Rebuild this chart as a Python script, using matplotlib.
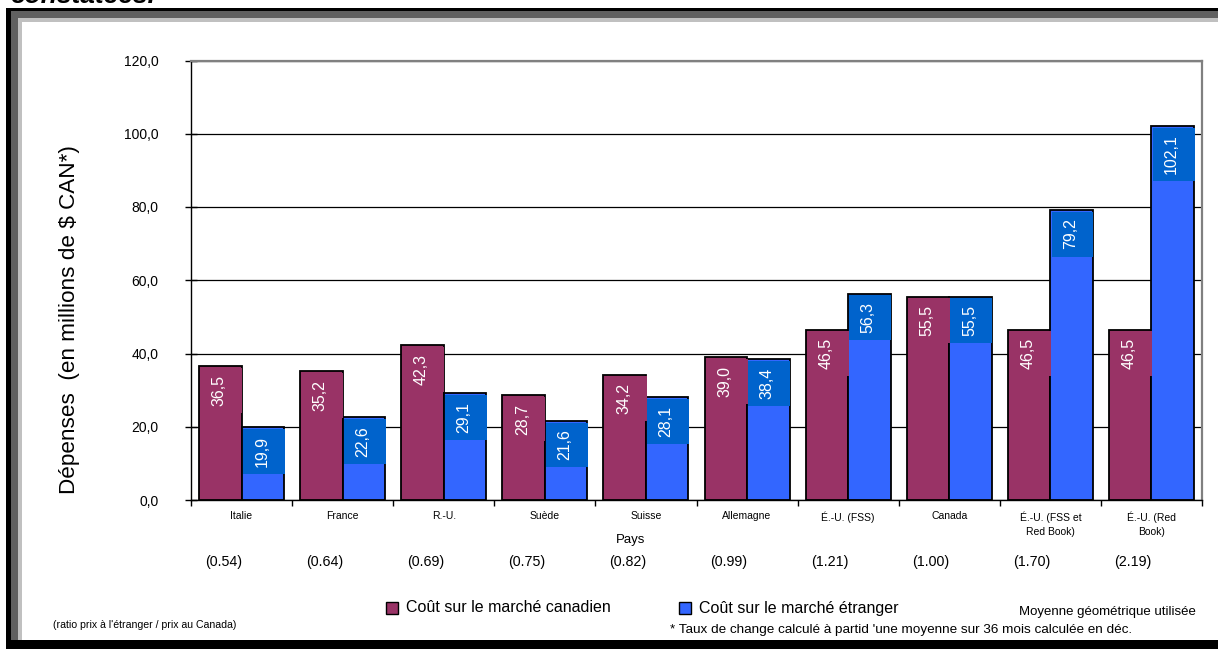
import matplotlib
matplotlib.use('Agg')
import matplotlib.pyplot as plt
from matplotlib.patches import Rectangle
import numpy as np

plt.rcParams['font.family'] = ['Liberation Sans', 'DejaVu Sans']

pays = ['Italie', 'France', 'R.-U.', 'Suède', 'Suisse', 'Allemagne',
        'É.-U. (FSS)', 'Canada', 'É.-U. (FSS et\nRed Book)', 'É.-U. (Red\nBook)']
cout_canadien = [36.5, 35.2, 42.3, 28.7, 34.2, 39.0, 46.5, 55.5, 46.5, 46.5]
cout_etranger = [19.9, 22.6, 29.1, 21.6, 28.1, 38.4, 56.3, 55.5, 79.2, 102.1]
ratios = ['(0.54)', '(0.64)', '(0.69)', '(0.75)', '(0.82)',
          '(0.99)', '(1.21)', '(1.00)', '(1.70)', '(2.19)']

W, H = 1218, 649
fig = plt.figure(figsize=(W / 100, H / 100), dpi=100)

def px_rect(x0, y0, x1, y1, color):
    # rectangle given in pixels from the top-left corner
    fig.patches.append(Rectangle((x0 / W, 1 - y1 / H), (x1 - x0) / W, (y1 - y0) / H,
                                 transform=fig.transFigure, facecolor=color,
                                 edgecolor='none', zorder=-5))

# page frame
px_rect(6, 8, W, H, 'black')
px_rect(11, 11, W, 640, '#606060')
px_rect(18, 18, W, 640, '#c0c0c0')
px_rect(22, 22, W, 640, 'white')

fig.text(10 / W, 1 - 3 / H, 'constatées.', fontsize=19, fontweight='bold',
         fontstyle='italic', va='baseline', ha='left')

ax = fig.add_axes([191 / W, 1 - 500 / H, (1202 - 191) / W, (500 - 60.5) / H])
ax.set_zorder(1)

x = np.arange(len(pays))
w = 0.42
c_can = '#993366'
c_etr = '#3366FF'
c_lab = '#0063CC'

ax.bar(x - w / 2, cout_canadien, w, color=c_can, edgecolor='black', linewidth=1.3, zorder=2)
ax.bar(x + w / 2, cout_etranger, w, color=c_etr, edgecolor='black', linewidth=1.3, zorder=2)

# value labels with filled boxes at the top of each bar
per_px = 20 / 73.33
for xs, vals, fc in [(x - w / 2, cout_canadien, c_can), (x + w / 2, cout_etranger, c_lab)]:
    for xc, v in zip(xs, vals):
        txt = f'{v:.1f}'.replace('.', ',')
        h = (13 + 8 * len(txt)) * per_px
        top = v - 0.45
        ax.add_patch(Rectangle((xc - w / 2 + 0.012, top - h), w - 0.006, h,
                               facecolor=fc, edgecolor='none', zorder=3))
        ax.text(xc - 0.01, top - h / 2, txt, rotation=90, ha='center', va='center',
                color='white', fontsize=11.5, zorder=4)

ax.set_xlim(-0.5, len(pays) - 0.5)
ax.set_ylim(0, 120)
ax.set_yticks(np.arange(0, 121, 20))
ax.set_yticklabels([f'{t:.1f}'.replace('.', ',') for t in np.arange(0, 121, 20)])
ax.yaxis.grid(True, color='black', linewidth=0.9, zorder=0)
ax.set_axisbelow(True)

ax.set_xticks(x)
ax.set_xticklabels(pays, fontsize=7.5, linespacing=1.55)
ax.set_xticks(np.arange(-0.5, len(pays)), minor=True)
ax.tick_params(axis='x', which='major', length=0, pad=8)
ax.tick_params(axis='x', which='minor', length=4, direction='out', width=1)
ax.tick_params(axis='y', direction='inout', length=8.6, width=1, pad=19, labelsize=10)

for s in ['top', 'right']:
    ax.spines[s].set_color('#808080')
    ax.spines[s].set_linewidth(1.6)
ax.spines['left'].set_linewidth(1)
ax.spines['bottom'].set_linewidth(1)

fig.text(70 / W, 1 - 320 / H, 'Dépenses  (en millions de $ CAN*)', rotation=90,
         fontsize=16.2, ha='center', va='center')
fig.text(631 / W, 1 - 540 / H, 'Pays', fontsize=9.5, ha='center', va='center')

for i, r in enumerate(ratios):
    xp = ax.transData.transform((i - 0.18, 0))[0] / W
    fig.text(xp, 1 - 562 / H, r, fontsize=10.3, ha='center', va='center')

# legend
for lx, col, lab in [(386, c_can, 'Coût sur le marché canadien'),
                     (679, c_etr, 'Coût sur le marché étranger')]:
    fig.patches.append(Rectangle((lx / W, 1 - 614 / H), 12 / W, 12 / H,
                                 transform=fig.transFigure, facecolor=col,
                                 edgecolor='black', linewidth=1, zorder=3))
    fig.text((lx + 20) / W, 1 - 608 / H, lab, fontsize=11.5, ha='left', va='center')

fig.text(1196 / W, 1 - 612 / H, 'Moyenne géométrique utilisée', fontsize=9.5,
         ha='right', va='center')
fig.text(670 / W, 1 - 630 / H,
         "* Taux de change calculé à partid 'une moyenne sur 36 mois calculée en déc.",
         fontsize=9.7, ha='left', va='center')
fig.text(53 / W, 1 - 625 / H, "(ratio prix à l'étranger / prix au Canada)",
         fontsize=7.6, ha='left', va='center')

fig.savefig('out.png', dpi=100)
